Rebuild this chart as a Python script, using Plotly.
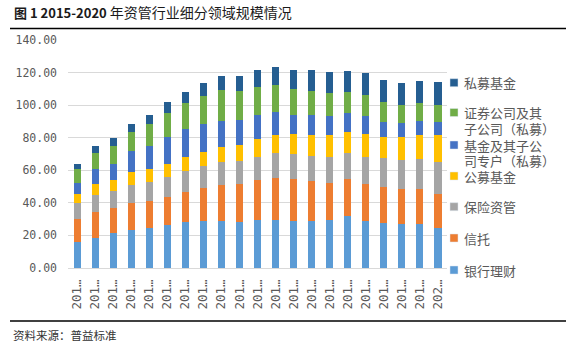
import plotly.graph_objects as go

# Quarterly periods (2015Q1 - 2020Q1)
periods = [f"{y}Q{q}" for y in range(2015, 2020) for q in range(1, 5)] + ["2020Q1"]

series_names = ["银行理财", "信托", "保险资管", "公募基金",
                "基金及其子公司专户（私募）", "证券公司及其子公司（私募）", "私募基金"]
# Legend labels wrapped the way they are shown
legend_lines = [["银行理财"], ["信托"], ["保险资管"], ["公募基金"],
                ["基金及其子公", "司专户（私募）"], ["证券公司及其", "子公司（私募）"], ["私募基金"]]
colors = ["#5B9BD5", "#ED7D31", "#A5A5A5", "#FFC000", "#4472C4", "#70AD47", "#255E91"]

bank = [16.0, 18.5, 21.4, 23.4, 24.6, 26.3, 28.3, 28.7, 28.7, 28.3, 29.6,
        29.6, 28.7, 28.7, 29.6, 32.0, 28.7, 27.5, 27.1, 27.1, 24.6]
trust = [14.0, 15.8, 15.3, 16.4, 16.5, 17.2, 18.3, 20.4, 22.2, 23.2, 24.4,
         25.6, 25.9, 24.7, 22.5, 22.6, 22.8, 22.2, 21.3, 21.3, 20.8]
insurance = [9.8, 10.5, 10.5, 11.1, 11.7, 12.3, 12.9, 13.5, 14.2, 14.2, 14.2,
             15.4, 15.4, 15.4, 16.1, 16.0, 16.7, 17.8, 17.9, 18.5, 19.7]
public_fund = [5.6, 6.7, 6.8, 8.0, 8.0, 8.0, 8.7, 8.6, 9.2, 9.8, 11.0,
               11.1, 12.3, 12.9, 13.5, 13.0, 14.1, 13.0, 14.2, 14.8, 16.6]
fund_special = [6.7, 9.3, 9.8, 13.0, 14.1, 16.7, 17.2, 17.3, 16.0, 15.4, 14.8,
                14.2, 11.7, 12.3, 11.7, 11.7, 11.1, 9.2, 8.6, 8.6, 8.0]
securities = [8.7, 9.8, 11.1, 11.7, 13.6, 14.8, 16.0, 17.2, 19.1, 17.9, 17.3,
              16.6, 16.0, 14.8, 14.2, 12.9, 12.9, 12.3, 11.1, 11.1, 10.5]
private_fund = [3.0, 4.3, 5.0, 4.9, 5.5, 6.7, 6.8, 8.0, 8.6, 9.2, 10.4,
                11.1, 11.7, 12.9, 12.9, 12.9, 13.6, 13.6, 13.5, 13.6, 14.1]

values = [bank, trust, insurance, public_fund, fund_special, securities, private_fund]

y_ticks = [0, 20, 40, 60, 80, 100, 120, 140]
x_ticktext = [p[:3] + "…" for p in periods]

W, H = 576, 347
L, R, T, B = 68, 129, 40, 79
PW, PH = W - L - R, H - T - B


def px(x):
    return (x - L) / PW


def py(y):
    return (H - B - y) / PH


fig = go.Figure()
for name, vals, col in zip(series_names, values, colors):
    fig.add_trace(go.Bar(x=periods, y=vals, name=name, marker_color=col,
                         marker_line_width=0, showlegend=False))

fig.update_layout(
    width=W, height=H, barmode="stack", bargap=0.61,
    margin=dict(l=L, r=R, t=T, b=B),
    paper_bgcolor="white", plot_bgcolor="white",
    font=dict(family="Noto Sans CJK SC", color="#595959"),
)
fig.update_yaxes(range=[0, 140], tickvals=y_ticks,
                 ticktext=[f"{v:.2f}" for v in y_ticks],
                 showgrid=True, gridcolor="#D9D9D9", gridwidth=1,
                 zeroline=True, zerolinecolor="#D9D9D9", zerolinewidth=1,
                 showline=False, ticks="", ticklabelstandoff=10,
                 tickfont=dict(family="DejaVu Sans Mono", size=11.5, color="#595959"))
fig.update_xaxes(tickvals=periods, ticktext=x_ticktext, tickangle=-90,
                 showgrid=False, showline=False, ticks="", ticklabelstandoff=8,
                 tickfont=dict(family="DejaVu Sans Mono", size=12.5, color="#595959"))

# Legend drawn beside the plot, top entry = last series
legend_y = [270, 238, 206.7, 176, 145, 112.5, 82.7]
line_step = 15.7
shapes = []
annotations = []
for lines, col, yy in zip(legend_lines, colors, legend_y):
    shapes.append(dict(type="rect", xref="paper", yref="paper",
                       x0=px(450), x1=px(458), y0=py(yy + 4), y1=py(yy - 4),
                       fillcolor=col, line=dict(color="#DDE6F0", width=0.5)))
    for i, txt in enumerate(lines):
        annotations.append(dict(xref="paper", yref="paper", x=px(462),
                                y=py(yy + i * line_step),
                                xanchor="left", yanchor="middle", showarrow=False,
                                align="left", text=txt,
                                font=dict(size=13, color="#595959",
                                          family="Noto Sans CJK SC")))

# Title, rules and source
annotations.append(dict(xref="paper", yref="paper", x=px(12), y=py(12.5),
                        xanchor="left", yanchor="middle", showarrow=False,
                        text=("<b>图 1 2015-2020</b> "
                              "<span style='font-size:14px'>年资管行业细分领域规模情况</span>"),
                        font=dict(size=13, color="#1a1a1a", family="Noto Sans CJK SC")))
annotations.append(dict(xref="paper", yref="paper", x=px(11), y=py(335),
                        xanchor="left", yanchor="middle", showarrow=False,
                        text="资料来源：普益标准",
                        font=dict(size=11.5, color="#333333", family="Noto Sans CJK SC")))
for yy in (28.5, 321):
    shapes.append(dict(type="line", xref="paper", yref="paper",
                       x0=px(10), x1=px(566), y0=py(yy), y1=py(yy),
                       line=dict(color="black", width=1.5)))

fig.update_layout(shapes=shapes, annotations=annotations)
fig.write_html("out.html")
